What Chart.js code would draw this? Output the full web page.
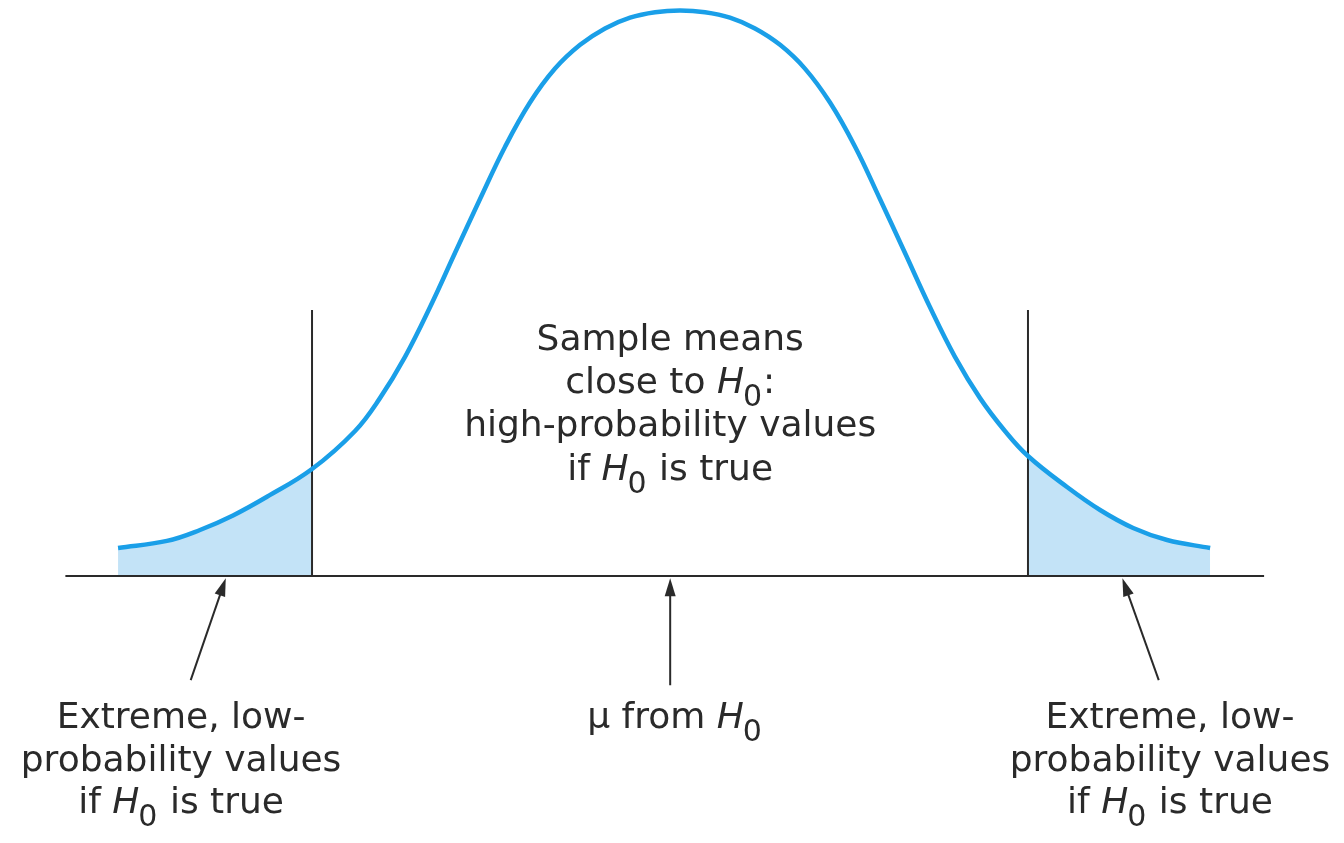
<!DOCTYPE html>
<html>
<head>
<meta charset="utf-8">
<script src="https://cdn.jsdelivr.net/npm/chart.js@4.4.1/dist/chart.umd.min.js"></script>
<style>
  html, body { margin: 0; padding: 0; background: #fff; }
  #wrap { width: 1344px; height: 843px; }
</style>
</head>
<body>
<div id="wrap"><canvas id="chart"></canvas></div>
<script>
// sampling curve: x in standard units, y relative to the peak
const curveX = [-3.010, -2.741, -2.559, -2.377, -2.190, -1.942,
  -1.705, -1.568, -1.430, -1.292, -1.155, -1.017, -0.879, -0.742, -0.604, -0.466,
  -0.329, -0.191, -0.053, 0.084,
  0.222, 0.359, 0.497, 0.635, 0.772, 0.910, 1.048, 1.185, 1.323, 1.460, 1.598, 1.736, 1.873,
  2.000, 2.215, 2.397, 2.579, 2.766, 3.003];
const curveY = [0.0495, 0.0620, 0.0813, 0.1070, 0.1400, 0.1890,
  0.2563, 0.3143, 0.3873, 0.4753, 0.5707, 0.6661, 0.7585, 0.8365, 0.8965, 0.9385,
  0.9675, 0.9865, 0.9961, 0.9991,
  0.9961, 0.9865, 0.9675, 0.9385, 0.8965, 0.8365, 0.7585, 0.6661, 0.5707, 0.4753, 0.3873, 0.3143, 0.2563,
  0.2120, 0.1572, 0.1166, 0.0848, 0.0636, 0.0495];

// shaded critical regions
const leftTailX = [-3.010, -2.741, -2.559, -2.377, -2.190, -1.942];
const leftTailY = [0.0495, 0.0620, 0.0813, 0.1070, 0.1400, 0.1890];
const rightTailX = [2.000, 2.215, 2.397, 2.579, 2.766, 3.003];
const rightTailY = [0.2120, 0.1572, 0.1166, 0.0848, 0.0636, 0.0495];

// boundaries and axis
const critX = [-1.942, 2.000];
const critTop = 0.47;
const axisX = [-3.30, 3.30];

// arrows (tail -> tip)
const arrowTailX = [-2.61, 0.03, 2.72];
const arrowTailY = [-0.184, -0.193, -0.184];
const arrowTipX = [-2.417, 0.03, 2.52];
const arrowTipY = [-0.004, -0.004, -0.004];

// labels
const centerLines = ['Sample means', 'close to H0:', 'high-probability values', 'if H0 is true'];
const centerLineY = [0.422, 0.346, 0.270, 0.193];
const centerLabelX = 0.03;
const tailLines = ['Extreme, low-', 'probability values', 'if H0 is true'];
const tailLineY = [-0.2456, -0.3216, -0.3958];
const tailLabelX = [-2.663, 2.782];
const muLabel = 'μ from H0';
const muLabelX = 0.057;

const FONT = '"DejaVu Sans", sans-serif';
const SIZE = 36;
const INK = '#2a2a2a';

const pts = (xs, ys) => xs.map((x, i) => ({ x: x, y: ys[i] }));

function drawRich(ctx, text, cx, cy) {
  const parts = text.split(/(H0)/).filter(p => p !== '');
  const base = cy + SIZE * 0.36;
  const reg = SIZE + 'px ' + FONT;
  const ital = 'italic ' + SIZE + 'px ' + FONT;
  const sub = Math.round(SIZE * 0.84) + 'px ' + FONT;
  let w = 0;
  parts.forEach(p => {
    if (p === 'H0') {
      ctx.font = ital; w += ctx.measureText('H').width;
      ctx.font = sub; w += ctx.measureText('0').width;
    } else {
      ctx.font = reg; w += ctx.measureText(p).width;
    }
  });
  let x = cx - w / 2;
  ctx.textAlign = 'left';
  ctx.textBaseline = 'alphabetic';
  parts.forEach(p => {
    if (p === 'H0') {
      ctx.font = ital; ctx.fillText('H', x, base); x += ctx.measureText('H').width;
      ctx.font = sub; ctx.fillText('0', x - 1, base + SIZE * 0.36); x += ctx.measureText('0').width;
    } else {
      ctx.font = reg; ctx.fillText(p, x, base); x += ctx.measureText(p).width;
    }
  });
}

const notes = {
  id: 'notes',
  afterDatasetsDraw(chart) {
    const ctx = chart.ctx;
    const sx = chart.scales.x, sy = chart.scales.y;
    ctx.save();
    ctx.strokeStyle = INK;
    ctx.fillStyle = INK;
    ctx.lineWidth = 2;
    for (let i = 0; i < arrowTipX.length; i++) {
      const x1 = sx.getPixelForValue(arrowTailX[i]), y1 = sy.getPixelForValue(arrowTailY[i]);
      const x2 = sx.getPixelForValue(arrowTipX[i]), y2 = sy.getPixelForValue(arrowTipY[i]);
      const a = Math.atan2(y2 - y1, x2 - x1);
      const c = Math.cos(a), s = Math.sin(a);
      const head = 18, half = 5.5;
      ctx.beginPath();
      ctx.moveTo(x1, y1);
      ctx.lineTo(x2 - c * head * 0.8, y2 - s * head * 0.8);
      ctx.stroke();
      ctx.beginPath();
      ctx.moveTo(x2, y2);
      ctx.lineTo(x2 - c * head + s * half, y2 - s * head - c * half);
      ctx.lineTo(x2 - c * head - s * half, y2 - s * head + c * half);
      ctx.closePath();
      ctx.fill();
    }
    const cx = sx.getPixelForValue(centerLabelX);
    centerLines.forEach((t, i) => drawRich(ctx, t, cx, sy.getPixelForValue(centerLineY[i])));
    tailLabelX.forEach(lx => {
      const px = sx.getPixelForValue(lx);
      tailLines.forEach((t, i) => drawRich(ctx, t, px, sy.getPixelForValue(tailLineY[i])));
    });
    drawRich(ctx, muLabel, sx.getPixelForValue(muLabelX), sy.getPixelForValue(tailLineY[0]));
    ctx.restore();
  }
};

const lineDefaults = { showLine: true, pointRadius: 0, tension: 0.4 };

new Chart(document.getElementById('chart'), {
  type: 'scatter',
  data: {
    datasets: [
      Object.assign({ data: pts(curveX, curveY), borderColor: '#1a9fe8', borderWidth: 4.5,
        fill: false, order: 0 }, lineDefaults),
      Object.assign({ data: pts([critX[0], critX[0]], [0, critTop]), borderColor: INK, borderWidth: 2,
        fill: false, order: 1 }, lineDefaults),
      Object.assign({ data: pts([critX[1], critX[1]], [0, critTop]), borderColor: INK, borderWidth: 2,
        fill: false, order: 1 }, lineDefaults),
      Object.assign({ data: pts(axisX, [0, 0]), borderColor: INK, borderWidth: 2,
        fill: false, order: 1 }, lineDefaults),
      Object.assign({ data: pts(leftTailX, leftTailY), borderWidth: 0, borderColor: 'rgba(0,0,0,0)',
        backgroundColor: '#c3e3f7', fill: 'origin', order: 2 }, lineDefaults),
      Object.assign({ data: pts(rightTailX, rightTailY), borderWidth: 0, borderColor: 'rgba(0,0,0,0)',
        backgroundColor: '#c3e3f7', fill: 'origin', order: 2 }, lineDefaults)
    ]
  },
  options: {
    responsive: true,
    maintainAspectRatio: false,
    animation: false,
    layout: { padding: 0 },
    plugins: { legend: { display: false }, tooltip: { enabled: false } },
    scales: {
      x: { type: 'linear', min: -3.66, max: 3.74, display: false },
      y: { type: 'linear', min: -0.4717, max: 1.0177, display: false }
    }
  },
  plugins: [notes]
});
</script>
</body>
</html>
